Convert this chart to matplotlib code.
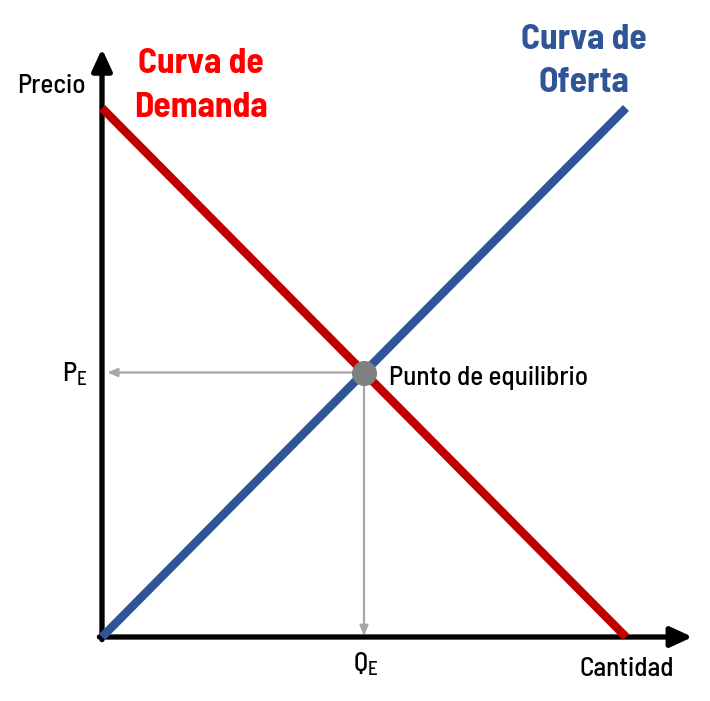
import matplotlib
matplotlib.use("Agg")
import matplotlib.pyplot as plt

# Data
demand_q = [0, 10]
demand_p = [10, 0]
supply_q = [0, 10]
supply_p = [0, 10]
eq_q, eq_p = 5, 5
x_label = "Cantidad"
y_label = "Precio"
eq_label = "Punto de equilibrio"

FONT = ['Barlow Semi Condensed', 'DejaVu Sans']
plt.rcParams['font.family'] = FONT

W, H = 710, 701
fig = plt.figure(figsize=(W / 100, H / 100), dpi=100)
x0, y0 = 102, 637
xw, yh = 524, 529
ax = fig.add_axes([x0 / W, (H - y0) / H, xw / W, yh / H])
ax.set_xlim(0, 10)
ax.set_ylim(0, 10)
ax.axis('off')

red = '#C00000'
blue = '#2F5597'
grey = '#A6A6A6'

# axes arrows
ax.annotate('', xy=(11.27, 0), xytext=(-0.05, 0), annotation_clip=False,
            arrowprops=dict(arrowstyle='-|>,head_length=1.3,head_width=0.6', lw=3.8, color='black',
                            shrinkA=0, shrinkB=0))
ax.annotate('', xy=(0, 11.12), xytext=(0, -0.05), annotation_clip=False,
            arrowprops=dict(arrowstyle='-|>,head_length=1.3,head_width=0.6', lw=3.8, color='black',
                            shrinkA=0, shrinkB=0))

# curves
ax.plot(demand_q, demand_p, color=red, lw=6.1, solid_capstyle='butt', clip_on=False, zorder=3)
ax.plot(supply_q, supply_p, color=blue, lw=6.1, solid_capstyle='butt', clip_on=False, zorder=3)

# guide arrows
ax.annotate('', xy=(0.1, eq_p), xytext=(eq_q, eq_p), annotation_clip=False,
            arrowprops=dict(arrowstyle='-|>,head_length=0.6,head_width=0.25', lw=1.6, color=grey,
                            shrinkA=0, shrinkB=0), zorder=2)
ax.annotate('', xy=(eq_q, 0.02), xytext=(eq_q, eq_p), annotation_clip=False,
            arrowprops=dict(arrowstyle='-|>,head_length=0.6,head_width=0.25', lw=1.6, color=grey,
                            shrinkA=0, shrinkB=0), zorder=2)

ax.plot([eq_q], [eq_p], 'o', ms=17, color='#808080', zorder=5, clip_on=False)

# texts
def px(xp, yp):
    return ((xp - x0) / xw * 10, (y0 - yp) / yh * 10)

ax.text(*px(201, 64), "Curva de", color='#FF0000', fontsize=25.5, fontweight='bold',
        ha='center', va='center')
ax.text(*px(201, 108), "Demanda", color='#FF0000', fontsize=25.5, fontweight='bold',
        ha='center', va='center')
ax.text(*px(584, 40), "Curva de", color=blue, fontsize=25.5, fontweight='bold',
        ha='center', va='center')
ax.text(*px(584, 83), "Oferta", color=blue, fontsize=25.5, fontweight='bold',
        ha='center', va='center')
ax.text(*px(51, 86), y_label, fontsize=19.5, fontweight='medium', ha='center', va='center')
ax.text(*px(627, 669), x_label, fontsize=19.5, fontweight='medium', ha='center', va='center')
ax.text(*px(389, 378), eq_label, fontsize=19.5, fontweight='medium', ha='left', va='center')
ax.text(*px(75, 374), r"P$_\mathregular{E}$", fontsize=19.5, fontweight='medium', ha='center', va='center')
ax.text(*px(366, 664), r"Q$_\mathregular{E}$", fontsize=19.5, fontweight='medium', ha='center', va='center')

fig.savefig("out.png", dpi=100)
